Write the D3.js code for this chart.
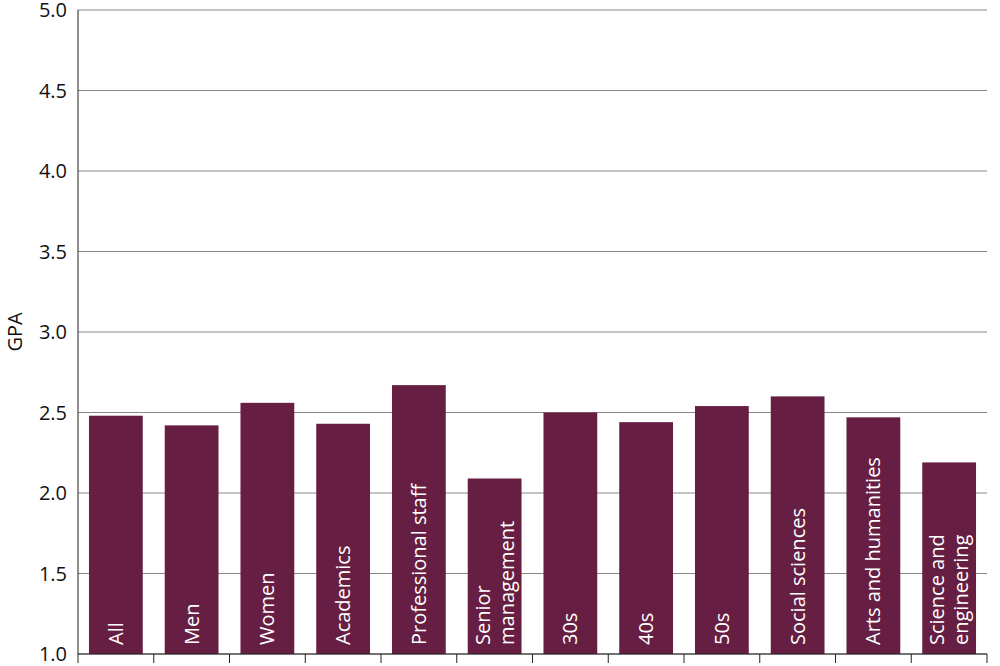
<!DOCTYPE html>
<html><head><meta charset="utf-8">
<script src="https://cdn.jsdelivr.net/npm/d3@7"></script>
<style>body{margin:0;background:#fff}text{font-family:"Open Sans","Noto Sans",sans-serif}</style>
</head><body><svg id="chart" width="1000" height="666"></svg>
<script>
var categories = [["All"],["Men"],["Women"],["Academics"],["Professional staff"],["Senior","management"],["30s"],["40s"],["50s"],["Social sciences"],["Arts and humanities"],["Science and","engineering"]];
var gpa = [2.48, 2.42, 2.56, 2.43, 2.67, 2.09, 2.50, 2.44, 2.54, 2.60, 2.47, 2.19];
var yTicks = [1.0, 1.5, 2.0, 2.5, 3.0, 3.5, 4.0, 4.5, 5.0];

var svg = d3.select('#chart');
var plotLeft = 78, plotRight = 987, plotTop = 10, plotBottom = 654;
var x = d3.scaleBand().domain(d3.range(gpa.length)).range([plotLeft, plotRight]).paddingInner(0.29).paddingOuter(0.145);
var y = d3.scaleLinear().domain([1, 5]).range([plotBottom, plotTop]);

// gridlines
svg.selectAll('.grid').data(yTicks).enter().append('line')
    .attr('x1', plotLeft).attr('x2', plotRight)
    .attr('y1', d => y(d)).attr('y2', d => y(d))
    .attr('stroke', '#888').attr('stroke-width', 1);

// y labels
svg.selectAll('.ylab').data(yTicks).enter().append('text')
    .attr('x', 67).attr('y', d => y(d)).attr('dy', '0.35em')
    .attr('text-anchor', 'end').attr('font-size', 20).attr('fill', '#111')
    .text(d => d.toFixed(1));

svg.append('text').attr('transform', 'translate(22,' + (plotTop + plotBottom) / 2 + ') rotate(-90)')
    .attr('text-anchor', 'middle').attr('font-size', 20).attr('fill', '#111').text('GPA');

// bars
svg.selectAll('.bar').data(gpa).enter().append('rect')
    .attr('x', (d, i) => x(i)).attr('width', x.bandwidth())
    .attr('y', d => y(d)).attr('height', d => plotBottom - y(d))
    .attr('fill', '#661e42');

// bar labels
var step = x.step();
var lab = svg.selectAll('.lab').data(categories).enter().append('text')
    .attr('transform', (d, i) => 'translate(' + (x(i) + x.bandwidth() / 2) + ',' + (plotBottom - 9) + ') rotate(-90)')
    .attr('font-size', 20).attr('fill', '#fff');
lab.selectAll('tspan').data(d => d.map((t, k) => ({t: t, k: k, n: d.length}))).enter().append('tspan')
    .attr('x', 0).attr('dy', t => t.k === 0 ? (t.n === 1 ? '0.35em' : '-0.25em') : '1.2em')
    .text(t => t.t);

// axes
svg.append('line').attr('x1', plotLeft).attr('x2', plotLeft).attr('y1', plotTop).attr('y2', plotBottom).attr('stroke', '#222');
svg.append('line').attr('x1', plotLeft).attr('x2', plotRight).attr('y1', plotBottom).attr('y2', plotBottom).attr('stroke', '#222');
svg.selectAll('.tick').data(d3.range(gpa.length + 1)).enter().append('line')
    .attr('x1', i => plotLeft + i * step).attr('x2', i => plotLeft + i * step)
    .attr('y1', plotBottom).attr('y2', plotBottom + 9).attr('stroke', '#222');
</script></body></html>
